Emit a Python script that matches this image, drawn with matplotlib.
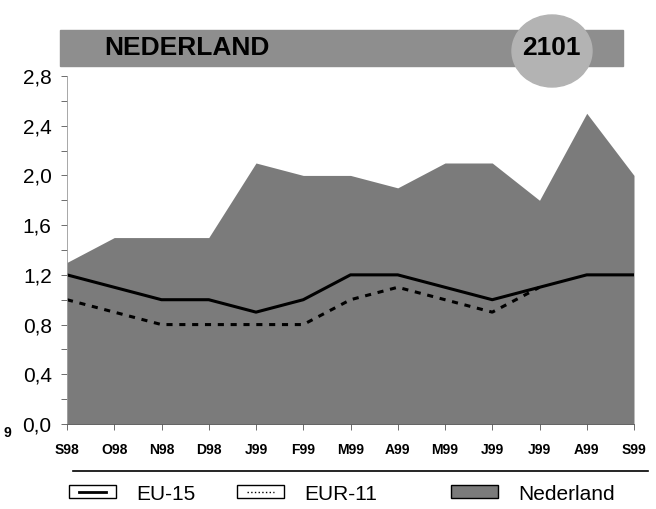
import numpy as np
import matplotlib.pyplot as plt
from matplotlib.patches import Rectangle, Ellipse
from matplotlib.lines import Line2D

# maand labels en waarden
months = ["S98", "O98", "N98", "D98", "J99", "F99", "M99",
          "A99", "M99", "J99", "J99", "A99", "S99"]
nederland = [1.3, 1.5, 1.5, 1.5, 2.1, 2.0, 2.0, 1.9, 2.1, 2.1, 1.8, 2.5, 2.0]
eu15 = [1.2, 1.1, 1.0, 1.0, 0.9, 1.0, 1.2, 1.2, 1.1, 1.0, 1.1, 1.2, 1.2]
eur11 = [1.0, 0.9, 0.8, 0.8, 0.8, 0.8, 1.0, 1.1, 1.0, 0.9, 1.1, np.nan, np.nan]
y_ticks = [0.0, 0.4, 0.8, 1.2, 1.6, 2.0, 2.4, 2.8]

plt.rcParams['font.family'] = ['Liberation Sans', 'DejaVu Sans']

W, H = 656, 509
fig = plt.figure(figsize=(W / 100, H / 100), dpi=100)
ax = fig.add_axes([67 / W, 1 - 424 / H, (634 - 67) / W, (424 - 76) / H])

x = np.arange(len(months))
ax.fill_between(x, 0, nederland, color="#7b7b7b", linewidth=0)
ax.plot(x, eu15, color="black", linewidth=2.2)
ax.plot(x, eur11, color="black", linewidth=2.2, linestyle=(0, (2, 2.2)))

ax.set_xlim(0, len(months) - 1)
ax.set_ylim(0, 2.8)
ax.set_yticks(y_ticks)
ax.set_yticklabels([f"{v:.1f}".replace(".", ",") for v in y_ticks], fontsize=15)
ax.set_yticks(np.arange(0.2, 2.8, 0.4), minor=True)
ax.set_xticks(x)
ax.set_xticklabels(months, fontsize=10, fontweight="bold")
ax.tick_params(axis="x", length=4, width=0.6, color="#555555", pad=10)
ax.tick_params(axis="y", which="both", length=4, width=0.6, color="#555555", pad=7)
for side in ["top", "right"]:
    ax.spines[side].set_visible(False)
ax.spines["left"].set_color("#999999")
ax.spines["left"].set_linewidth(0.6)
ax.spines["bottom"].set_color("#555555")
ax.spines["bottom"].set_linewidth(0.6)

# titelbalk met ronde badge
def px(xp, yp):
    return xp / W, 1 - yp / H

fig.patches.append(Rectangle(px(60, 66), (623 - 60) / W, 36 / H,
                             transform=fig.transFigure, color="#8e8e8e", zorder=1))
fig.patches.append(Ellipse(px(552, 51), 80 / W, 72 / H,
                           transform=fig.transFigure, color="#b3b3b3", zorder=2))
fig.text(*px(104, 48), "NEDERLAND", fontsize=19, fontweight="bold",
         va="center", ha="left", zorder=3)
fig.text(*px(551, 48), "2101", fontsize=19, fontweight="bold",
         va="center", ha="center", zorder=3)
fig.text(*px(4, 433), "9", fontsize=10, fontweight="bold", va="center")

# legenda
fig.add_artist(Line2D([73 / W, 648 / W], [1 - 471 / H] * 2, color="black",
                      linewidth=1.2, transform=fig.transFigure))
boxes = [(69, "EU-15", "white", "-"), (237, "EUR-11", "white", ":"),
         (451, "Nederland", "#7b7b7b", None)]
for x0, label, fc, ls in boxes:
    fig.patches.append(Rectangle(px(x0, 498), 47 / W, 13 / H, transform=fig.transFigure,
                                 facecolor=fc, edgecolor="black", linewidth=1.0))
    if ls:
        fig.add_artist(Line2D([(x0 + 10) / W, (x0 + 37) / W], [1 - 491.5 / H] * 2,
                              color="black", linestyle=ls,
                              linewidth=2 if ls == "-" else 1,
                              transform=fig.transFigure))
    fig.text(*px(x0 + 67, 494), label, fontsize=15, va="center", ha="left")

fig.savefig("out.png", dpi=100)
